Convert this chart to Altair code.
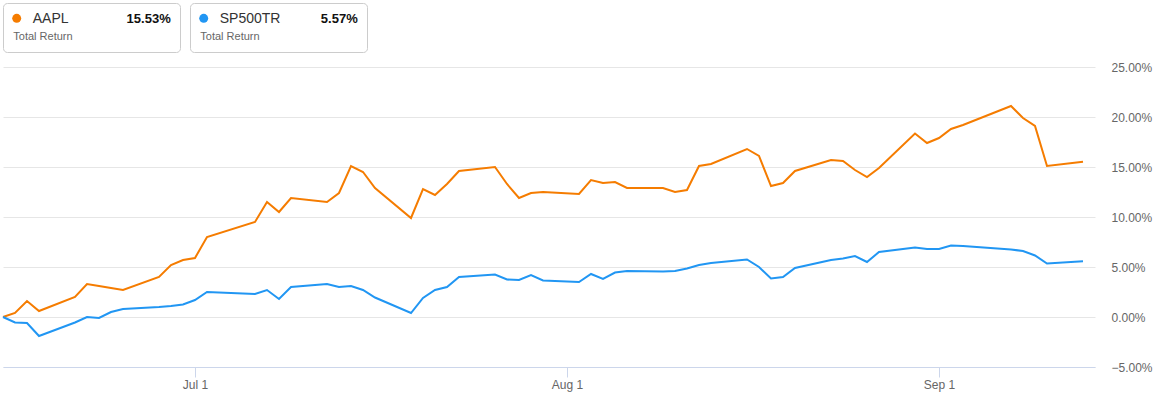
import altair as alt
import pandas as pd

# ---- data ----
dates = [
    "2021-06-15", "2021-06-16", "2021-06-17", "2021-06-18", "2021-06-21", "2021-06-22",
    "2021-06-23", "2021-06-24", "2021-06-25", "2021-06-28", "2021-06-29", "2021-06-30",
    "2021-07-01", "2021-07-02", "2021-07-06", "2021-07-07", "2021-07-08", "2021-07-09",
    "2021-07-12", "2021-07-13", "2021-07-14", "2021-07-15", "2021-07-16", "2021-07-19",
    "2021-07-20", "2021-07-21", "2021-07-22", "2021-07-23", "2021-07-26", "2021-07-27",
    "2021-07-28", "2021-07-29", "2021-07-30",
    "2021-08-02", "2021-08-03", "2021-08-04", "2021-08-05", "2021-08-06", "2021-08-09",
    "2021-08-10", "2021-08-11", "2021-08-12", "2021-08-13", "2021-08-16", "2021-08-17",
    "2021-08-18", "2021-08-19", "2021-08-20", "2021-08-23", "2021-08-24", "2021-08-25",
    "2021-08-26", "2021-08-27", "2021-08-30", "2021-08-31",
    "2021-09-01", "2021-09-02", "2021-09-03", "2021-09-07", "2021-09-08", "2021-09-09",
    "2021-09-10", "2021-09-13",
]
aapl = [
    0.0, 0.4, 1.6, 0.6, 2.0, 3.3, 3.1, 2.9, 2.7, 4.0, 5.2, 5.7,
    5.9, 8.0, 9.5, 11.5, 10.5, 11.9, 11.5, 12.4, 15.1, 14.5, 12.9, 9.9,
    12.8, 12.2, 13.3, 14.6, 15.0, 13.3, 11.9, 12.4, 12.5,
    12.3, 13.7, 13.4, 13.5, 12.9, 12.9, 12.5, 12.7, 15.1, 15.3, 16.8, 16.1,
    13.1, 13.4, 14.6, 15.7, 15.6, 14.7, 14.0, 14.9, 18.35, 17.4,
    17.9, 18.8, 19.2, 21.1, 19.9, 19.1, 15.1, 15.53,
]
sp500tr = [
    0.0, -0.55, -0.6, -1.9, -0.55, 0.0, -0.1, 0.5, 0.8, 1.0, 1.1, 1.25,
    1.7, 2.5, 2.3, 2.7, 1.8, 3.0, 3.3, 3.0, 3.1, 2.7, 1.95, 0.4,
    1.9, 2.7, 3.0, 4.0, 4.25, 3.75, 3.7, 4.2, 3.65,
    3.5, 4.3, 3.8, 4.45, 4.6, 4.55, 4.6, 4.85, 5.2, 5.4, 5.75, 5.0,
    3.85, 4.0, 4.9, 5.7, 5.85, 6.1, 5.5, 6.5, 6.95, 6.8,
    6.8, 7.15, 7.1, 6.75, 6.6, 6.15, 5.35, 5.57,
]
series_names = ["AAPL", "SP500TR"]
series_colors = ["#F57C00", "#2196F3"]
final_labels = ["15.53%", "5.57%"]
sub_label = "Total Return"
y_ticks = [-5, 0, 5, 10, 15, 20, 25]

FONT = "Liberation Sans"

df = pd.DataFrame({
    "date": pd.to_datetime(dates + dates),
    "series": [series_names[0]] * len(dates) + [series_names[1]] * len(dates),
    "value": aapl + sp500tr,
})

color_scale = alt.Scale(domain=series_names, range=series_colors)

lines = alt.Chart(df).mark_line(strokeWidth=2).encode(
    x=alt.X(
        "date:T",
        scale=alt.Scale(domain=[alt.DateTime(year=2021, month=6, date=15),
                                alt.DateTime(year=2021, month=9, date=14)]),
        axis=alt.Axis(
            values=[alt.DateTime(year=2021, month=7, date=1),
                    alt.DateTime(year=2021, month=8, date=1),
                    alt.DateTime(year=2021, month=9, date=1)],
            format="%b %-d", title=None, grid=False,
            domainColor="#ccd6eb", tickColor="#ccd6eb", tickSize=10,
            labelColor="#666666", labelFontSize=12, labelPadding=2, labelFont=FONT,
        ),
    ),
    y=alt.Y(
        "value:Q",
        scale=alt.Scale(domain=[-5, 25], nice=False, zero=False),
        axis=alt.Axis(
            orient="right", values=y_ticks,
            labelExpr="format(datum.value, '.2f') + '%'",
            title=None, domain=False, ticks=False, gridColor="#e6e6e6",
            labelColor="#666666", labelFontSize=12, labelPadding=16,
            labelAlign="left", labelFont=FONT,
        ),
    ),
    color=alt.Color("series:N", scale=color_scale, legend=None),
)

legend_df = pd.DataFrame({
    "series": series_names,
    "final": final_labels,
    "sub": [sub_label] * len(series_names),
})

legend_layers = []
for i, name in enumerate(series_names):
    dx = 187 * i
    base = alt.Chart(legend_df).transform_filter(alt.datum.series == name)
    legend_layers.append(
        base.mark_rect(fill="white", stroke="#cccccc", strokeWidth=1, cornerRadius=4).encode(
            x=alt.value(0.5 + dx), x2=alt.value(177.5 + dx),
            y=alt.value(-63.5), y2=alt.value(-14.5),
        )
    )
    legend_layers.append(
        base.mark_circle(size=80, opacity=1).encode(
            x=alt.value(13.7 + dx), y=alt.value(-48.7),
            color=alt.Color("series:N", scale=color_scale, legend=None),
        )
    )
    legend_layers.append(
        base.mark_text(align="left", baseline="alphabetic", fontSize=14,
                       color="#333333", font=FONT).encode(
            x=alt.value(29.7 + dx), y=alt.value(-44.3), text="series:N",
        )
    )
    legend_layers.append(
        base.mark_text(align="right", baseline="alphabetic", fontSize=13,
                       fontWeight="bold", color="#111111", font=FONT).encode(
            x=alt.value(167.7 + dx), y=alt.value(-44.3), text="final:N",
        )
    )
    legend_layers.append(
        base.mark_text(align="left", baseline="alphabetic", fontSize=11,
                       color="#666666", font=FONT).encode(
            x=alt.value(10.3 + dx), y=alt.value(-27.2), text="sub:N",
        )
    )

chart = alt.layer(lines, *legend_layers).properties(
    width=1092,
    height=300,
    padding={"left": 3, "top": 67, "right": 59, "bottom": 31},
    autosize=alt.AutoSizeParams(type="none"),
).configure(font=FONT, background="white").configure_view(stroke="transparent", strokeWidth=0)

chart.save("out.html", embed_options={"renderer": "svg", "actions": False})
